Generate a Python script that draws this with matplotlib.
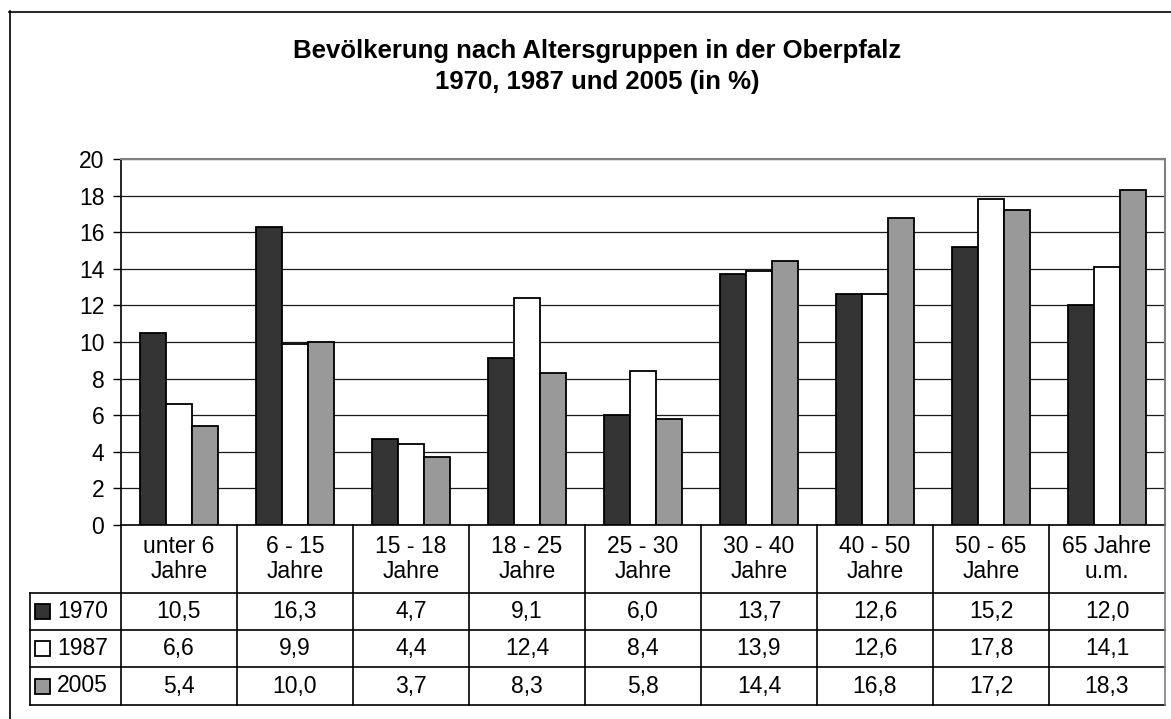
import matplotlib
matplotlib.use("Agg")
from matplotlib import pyplot as plt
from matplotlib.patches import Rectangle
from matplotlib.lines import Line2D
import numpy as np

# data
categories = ['unter 6\nJahre', '6 - 15\nJahre', '15 - 18\nJahre', '18 - 25\nJahre',
              '25 - 30\nJahre', '30 - 40\nJahre', '40 - 50\nJahre', '50 - 65\nJahre',
              '65 Jahre\nu.m.']
years = ['1970', '1987', '2005']
values_1970 = [10.5, 16.3, 4.7, 9.1, 6.0, 13.7, 12.6, 15.2, 12.0]
values_1987 = [6.6, 9.9, 4.4, 12.4, 8.4, 13.9, 12.6, 17.8, 14.1]
values_2005 = [5.4, 10.0, 3.7, 8.3, 5.8, 14.4, 16.8, 17.2, 18.3]
colors = ['#333333', '#ffffff', '#999999']

W, H = 1171, 719
FS = 16.5
plt.rcParams['font.family'] = ['Liberation Sans', 'DejaVu Sans']


def box(x0, y0, x1, y1):
    # pixel box (top-left origin) -> figure fraction rect
    return [x0 / W, 1 - y1 / H, (x1 - x0) / W, (y1 - y0) / H]


fig = plt.figure(figsize=(W / 100, H / 100), dpi=100)

# outer chart border (left and top visible only)
fig.add_artist(Line2D([9.5 / W, 9.5 / W], [1 - 11 / H, 0], transform=fig.transFigure,
                      color='black', lw=1.2))
fig.add_artist(Line2D([9 / W, 1], [1 - 11.5 / H, 1 - 11.5 / H], transform=fig.transFigure,
                      color='black', lw=1.2))

fig.text(597 / W, 1 - 51 / H, 'Bevölkerung nach Altersgruppen in der Oberpfalz',
         ha='center', va='center', fontsize=18.5, fontweight='bold')
fig.text(597 / W, 1 - 82 / H, '1970, 1987 und 2005 (in %)',
         ha='center', va='center', fontsize=18.5, fontweight='bold')

ax = fig.add_axes(box(121, 159, 1165, 525))
x = np.arange(len(categories))
bw = 0.225
series = [values_1970, values_1987, values_2005]
for i, vals in enumerate(series):
    ax.bar(x + (i - 1) * bw, vals, width=bw, color=colors[i], edgecolor='black',
           linewidth=1.3, zorder=3)

ax.set_xlim(-0.5, len(categories) - 0.5)
ax.set_ylim(0, 20)
ax.set_yticks(range(0, 21, 2))
ax.tick_params(axis='y', labelsize=FS, length=6, width=1, direction='out', pad=6)
ax.set_xticks([])
ax.yaxis.grid(True, color='#1a1a1a', lw=0.9, zorder=0)
ax.set_axisbelow(True)
for side in ['top', 'right']:
    ax.spines[side].set_color('#808080')
    ax.spines[side].set_linewidth(1.5)
ax.spines['left'].set_color('black')
ax.spines['left'].set_linewidth(1.2)
ax.spines['bottom'].set_color('black')
ax.spines['bottom'].set_linewidth(1.2)

# data table below the plot, x in category units, y in pixels
cat_px = (1165 - 121) / len(categories)
tx0 = -0.5 - (121 - 30) / cat_px
tx1 = len(categories) - 0.5
tab = fig.add_axes(box(30, 525, 1165, 705))
tab.set_xlim(tx0, tx1)
tab.set_ylim(180, 0)
tab.axis('off')

lc = 'black'
lw = 1.2
row_edges = [68, 105, 142, 180]
for y in row_edges:
    tab.plot([tx0, tx1], [y, y], color=lc, lw=lw, clip_on=False)
tab.plot([tx0, tx0], [68, 180], color=lc, lw=lw, clip_on=False)
for k in range(len(categories) + 1):
    tab.plot([k - 0.5, k - 0.5], [0, 180], color=lc if k < len(categories) else '#808080',
             lw=lw, clip_on=False)

for k, cat in enumerate(categories):
    tab.text(k, 34, cat, ha='center', va='center', fontsize=FS, linespacing=1.15)

for r, (yr, vals) in enumerate(zip(years, series)):
    yc = (row_edges[r] + row_edges[r + 1]) / 2
    sq = 15 / cat_px
    tab.add_patch(Rectangle((tx0 + 5 / cat_px, yc - 7.5), sq, 15, facecolor=colors[r],
                            edgecolor='black', lw=1.3, clip_on=False))
    tab.text(tx0 + 27 / cat_px, yc, yr, ha='left', va='center', fontsize=FS)
    for k, v in enumerate(vals):
        tab.text(k, yc, f'{v:.1f}'.replace('.', ','), ha='center', va='center', fontsize=FS)

fig.savefig('out.png', dpi=100)
